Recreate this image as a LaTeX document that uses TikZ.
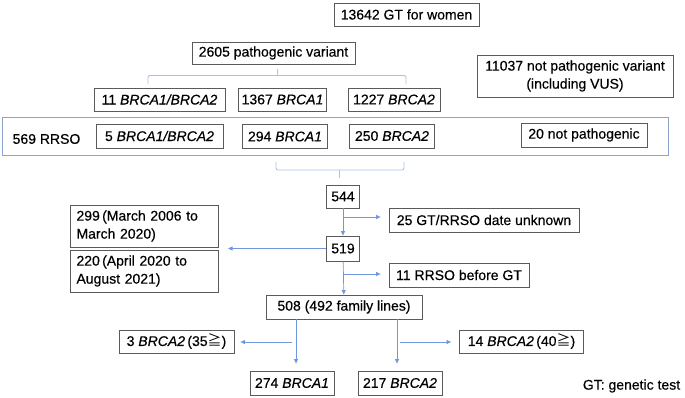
\documentclass[tikz,border=0pt]{standalone}
\usepackage{fontspec}
\setmainfont[FakeBold=0.4]{Liberation Sans}
\newfontfamily\jpfont{Noto Sans CJK JP}
\usetikzlibrary{arrows.meta}
\definecolor{boxgray}{HTML}{5A5A5A}
\definecolor{lineblue}{HTML}{6F98DE}
\definecolor{braceblue}{HTML}{A8C2E8}
\definecolor{frameblue}{HTML}{8BA3CF}
\newcommand{\ageq}{{\jpfont ≧}}

\begin{document}
\begin{tikzpicture}[x=1pt, y=-1pt,
    font=\fontsize{14}{18}\selectfont,
    box/.style={draw=boxgray, line width=0.8pt, inner xsep=3pt, inner ysep=0pt, minimum height=24pt},
    twoline/.style={box, align=left, text width=135pt, inner xsep=6.5pt, minimum height=42pt},
    conn/.style={lineblue, line width=0.7pt, -{Triangle[length=4.5pt, width=4pt]}},
    brace/.style={braceblue, line width=0.9pt, rounded corners=2pt}]
    \useasboundingbox (0, 0) rectangle (685, 398);

    \node[box, minimum width=145pt, minimum height=23pt] (gt) at (406.5, 14.5) {13642 GT for women};
    \node[box, minimum width=163pt, minimum height=22pt] (pv) at (273.5, 53) {2605 pathogenic variant};
    \node[box, align=center, minimum width=196pt, minimum height=42pt] (npv) at (575, 76) {11037 not pathogenic variant\\(including VUS)};

    \node[box, minimum width=131pt, minimum height=23pt] (b11) at (159.5, 99.5) {11 \textit{BRCA1/BRCA2}};
    \node[box, minimum width=87pt, minimum height=23pt] (b1367) at (282.5, 99.5) {1367 \textit{BRCA1}};
    \node[box, minimum width=92pt, minimum height=23pt] (b1227) at (394, 99.5) {1227 \textit{BRCA2}};

    \draw[frameblue, line width=0.9pt] (2.5, 117) rectangle (668, 155.5);
    \node (rrso) at (46.5, 139) {569 RRSO};
    \node[box, minimum width=127pt] (r5) at (159.5, 136) {5 \textit{BRCA1/BRCA2}};
    \node[box, minimum width=85pt] (r294) at (285, 136.5) {294 \textit{BRCA1}};
    \node[box, minimum width=85pt] (r250) at (392, 136) {250 \textit{BRCA2}};
    \node[box, minimum width=126pt] (r20) at (584, 135) {20 not pathogenic};

    \node[box, minimum width=33pt, minimum height=23pt] (n544) at (343, 196.5) {544};
    \node[box, minimum width=190pt] (n25) at (484, 220) {25 GT/RRSO date unknown};
    \node[box, minimum width=33pt, minimum height=25pt] (n519) at (343, 248.5) {519};
    \node[twoline] (p299) at (144, 226) {299\,(March 2006 to\\March 2020)};
    \node[twoline] (p220) at (144, 271) {220\,(April 2020 to\\August 2021)};
    \node[box, minimum width=140pt] (n11) at (459, 275) {11 RRSO before GT};
    \node[box, minimum width=156pt] (n508) at (344, 307) {508 (492 family lines)};

    \node[box, minimum width=115pt, minimum height=23pt] (b3) at (176.5, 341.5) {3 \textit{BRCA2}\,(35\ageq)};
    \node[box, minimum width=124pt, minimum height=23pt] (b14) at (521.5, 341.5) {14 \textit{BRCA2}\,(40\ageq)};
    \node[box, minimum width=84pt] (b274) at (292, 383) {274 \textit{BRCA1}};
    \node[box, minimum width=84pt] (b217) at (400, 383) {217 \textit{BRCA2}};
    \node (legend) at (631.5, 386) {GT: genetic test};

    \coordinate (tbl) at (148, 84);
    \coordinate (tbm) at (277, 75.5);
    \coordinate (tbr) at (406, 84);
    \coordinate (tbt) at (277, 69);
    \draw[brace] (tbl) |- (tbm) -| (tbr);
    \draw[brace] (tbm) -- (tbt);

    \coordinate (bbl) at (276, 162);
    \coordinate (bbm) at (339, 170);
    \coordinate (bbr) at (404, 162);
    \coordinate (bbt) at (339, 178);
    \draw[brace] (bbl) |- (bbm) -| (bbr);
    \draw[brace] (bbm) -- (bbt);

    \coordinate (j1) at (343, 217);
    \coordinate (j2) at (343, 274);
    \coordinate (pj) at (228, 248.5);
    \draw[conn] (n544) -- (n519);
    \draw[conn, shorten >=8pt] (j1) -- (j1 -| n25.west);
    \draw[conn] (n519) -- (pj);
    \draw[conn] (n519) -- (n508);
    \draw[conn, shorten >=8pt] (j2) -- (j2 -| n11.west);

    \coordinate (s1) at (296, 319);
    \coordinate (s2) at (397, 319);
    \coordinate (l1) at (292, 342);
    \coordinate (l2) at (400, 342);
    \draw[conn, shorten >=7pt] (s1) -- (s1 |- b274.north);
    \draw[conn, shorten >=7pt] (s2) -- (s2 |- b217.north);
    \draw[conn, shorten >=6pt] (l1) -- (l1 -| b3.east);
    \draw[conn, shorten >=8pt] (l2) -- (l2 -| b14.west);
\end{tikzpicture}
\end{document}
